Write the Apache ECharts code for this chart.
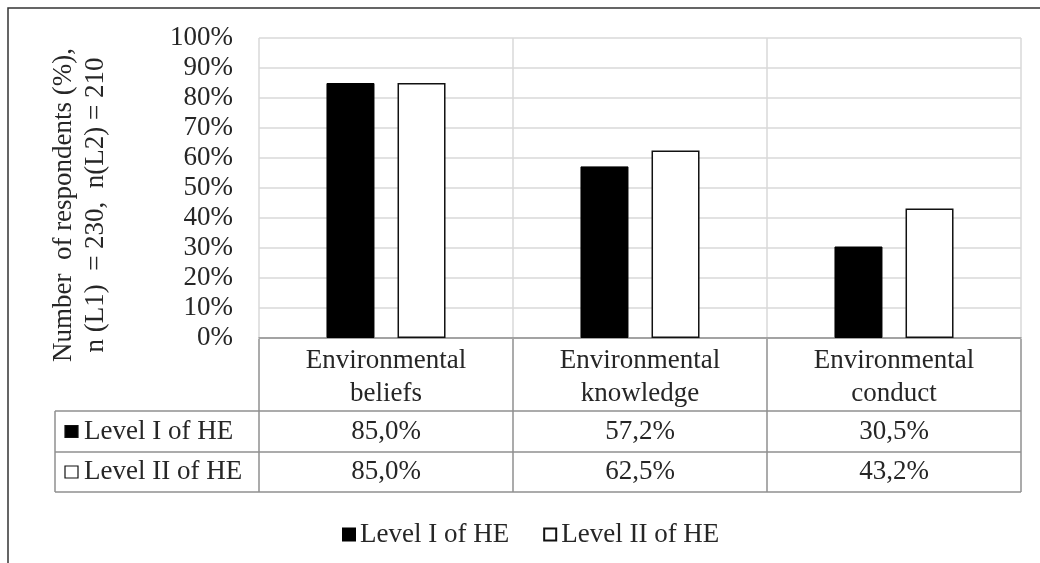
<!DOCTYPE html>
<html><head><meta charset="utf-8">
<script src="https://cdn.jsdelivr.net/npm/echarts@6/dist/echarts.min.js"></script>
<style>html,body{margin:0;padding:0;background:#fff}#c{width:1040px;height:563px}</style>
</head><body><div id="c"></div>
<script>
// ---- data ----
const categories = ['Environmental\nbeliefs', 'Environmental\nknowledge', 'Environmental\nconduct'];
const seriesNames = ['Level I of HE', 'Level II of HE'];
const level1 = [85.0, 57.2, 30.5];
const level2 = [85.0, 62.5, 43.2];
const yMin = 0, yMax = 100, yStep = 10;
const yTitleLines = ['Number  of respondents (%),', 'n (L1)  = 230,  n(L2) = 210'];

// ---- styles ----
const FONT = 'Liberation Serif';
const FS = 27;
const TXT = '#262626';
const TABLE_LINE = '#8f8f8f';
const GRID_LINE = '#d9d9d9';
const fmtPct = v => v.toFixed(1).replace('.', ',') + '%';

const chart = echarts.init(document.getElementById('c'), null, {renderer: 'canvas'});

const option = {
  animation: false,
  backgroundColor: '#fff',
  textStyle: {fontFamily: FONT},
  grid: {left: 259, right: 19, top: 38, bottom: 225, containLabel: false},
  legend: {
    left: 337, top: 516,
    itemWidth: 12, itemHeight: 12, itemGap: 34,
    icon: 'rect',
    textStyle: {fontFamily: FONT, fontSize: FS, color: TXT, padding: [0, 0, 0, 0]},
    data: seriesNames
  },
  xAxis: {
    type: 'category',
    data: categories,
    axisLine: {show: true, lineStyle: {color: TABLE_LINE, width: 1.5}},
    axisTick: {show: false},
    axisLabel: {fontFamily: FONT, fontSize: FS, color: TXT, lineHeight: 33, margin: 6, interval: 0},
    splitLine: {show: true, lineStyle: {color: GRID_LINE, width: 1.5}}
  },
  yAxis: {
    type: 'value', min: yMin, max: yMax, interval: yStep,
    axisLine: {show: false}, axisTick: {show: false},
    axisLabel: {fontFamily: FONT, fontSize: FS, color: TXT, margin: 26, formatter: v => v + '%'},
    splitLine: {show: true, lineStyle: {color: GRID_LINE, width: 1.5}}
  },
  series: [
    {name: seriesNames[0], type: 'bar', data: level1, barWidth: 48, barGap: '48%',
     itemStyle: {color: '#000', borderColor: '#000', borderWidth: 1}},
    {name: seriesNames[1], type: 'bar', data: level2, barWidth: 48,
     itemStyle: {color: '#fff', borderColor: '#111', borderWidth: 1.5}}
  ]
};
chart.setOption(option);

// ---- data table below the axis, positioned from the axis scale ----
const centers = categories.map((c, i) => chart.convertToPixel({xAxisIndex: 0}, i));
const band = centers.length > 1 ? centers[1] - centers[0] : 254;
const bounds = centers.map(c => c - band / 2).concat([centers[centers.length - 1] + band / 2]);
const yBase = chart.convertToPixel({yAxisIndex: 0}, 0);
const headTop = yBase + 1;
const rowTops = [yBase + 73, yBase + 114, yBase + 154];
const tableLeft = 55;
const g = [];
const line = (x1, y1, x2, y2) => g.push({type: 'line', shape: {x1, y1, x2, y2}, style: {stroke: TABLE_LINE, lineWidth: 1.5}, silent: true, z: 10});
bounds.forEach(x => line(x, headTop, x, rowTops[0]));
rowTops.forEach(y => line(tableLeft, y, bounds[bounds.length - 1], y));
[tableLeft].concat(bounds).forEach(x => line(x, rowTops[0], x, rowTops[2]));
const rows = [level1, level2];
rows.forEach((vals, r) => {
  const cy = (rowTops[r] + rowTops[r + 1]) / 2;
  g.push({type: 'rect', shape: {x: 65, y: cy - 6, width: 13, height: 12},
          style: {fill: r === 0 ? '#000' : '#fff', stroke: '#111', lineWidth: 1.2}, z: 10});
  g.push({type: 'text', x: 84, y: cy, style: {text: seriesNames[r], font: FS + 'px "' + FONT + '"', fill: TXT, textAlign: 'left', textVerticalAlign: 'middle'}, z: 10});
  vals.forEach((v, i) => {
    g.push({type: 'text', x: centers[i], y: cy, style: {text: fmtPct(v), font: FS + 'px "' + FONT + '"', fill: TXT, textAlign: 'center', textVerticalAlign: 'middle'}, z: 10});
  });
});
g.push({type: 'text', x: 80, y: 205, rotation: Math.PI / 2,
        style: {text: yTitleLines.join('\n'), font: FS + 'px "' + FONT + '"', lineHeight: 32, fill: TXT, textAlign: 'center', textVerticalAlign: 'middle'}, z: 10});
g.push({type: 'rect', shape: {x: 8, y: 8, width: 1100, height: 700}, style: {fill: 'none', stroke: '#333', lineWidth: 1.5}, silent: true, z: 10});
chart.setOption({graphic: g});
</script>
</body></html>
